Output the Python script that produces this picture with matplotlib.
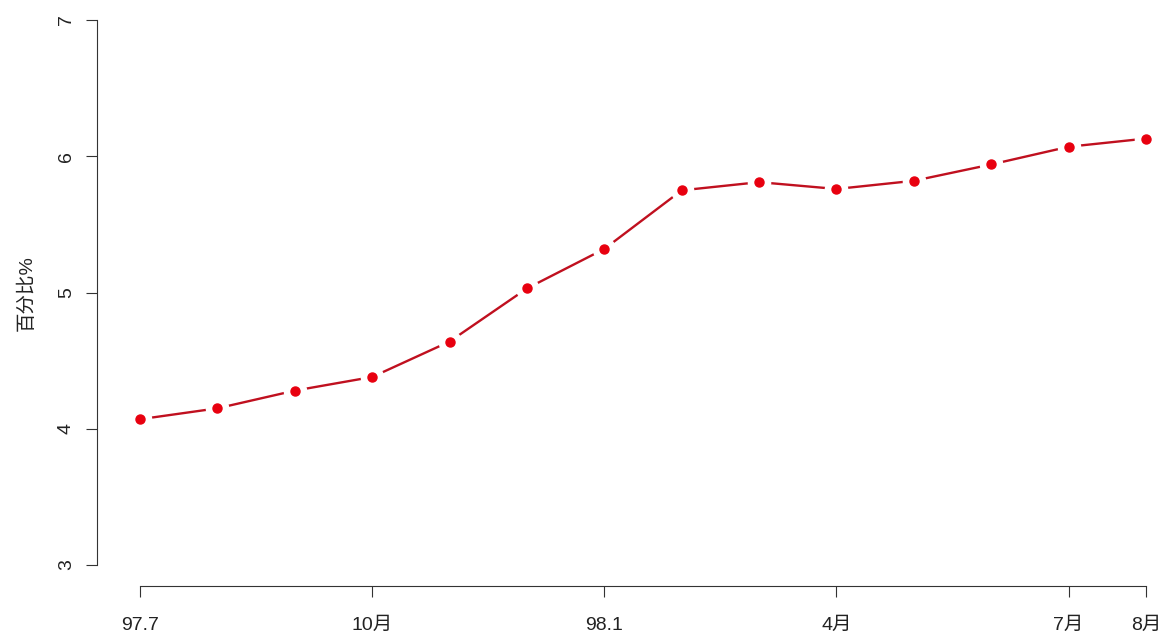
import matplotlib.pyplot as plt

plt.rcParams['font.family'] = ['Liberation Sans', 'Noto Sans CJK SC', 'DejaVu Sans']

# Monthly share, Jul 1997 - Aug 1998
months = list(range(1, 15))
values = [4.07, 4.15, 4.28, 4.38, 4.64, 5.03, 5.32, 5.75, 5.81, 5.76, 5.82, 5.94, 6.07, 6.13]
tick_pos = [1, 4, 7, 10, 13, 14]
tick_labels = ['97.7', '10月', '98.1', '4月', '7月', '8月']
y_ticks = [3, 4, 5, 6, 7]

fig = plt.figure(figsize=(11.66, 6.4), dpi=100)
ax = fig.add_axes([0.0832, 0.0844, 0.9168, 0.9156])

# line with gaps around each point
ax.plot(months, values, color='#c0101f', lw=1.7, zorder=1)
ax.plot(months, values, ls='none', marker='o', ms=16, mfc='white', mec='white', zorder=2)
ax.plot(months, values, ls='none', marker='o', ms=6.5, mfc='#e8000f', mec='#e8000f', zorder=3)

ax.set_xlim(0.444, 14.258)
ax.set_ylim(2.846, 7.147)

for side in ['top', 'right']:
    ax.spines[side].set_visible(False)
ax.spines['left'].set_bounds(3, 7)
ax.spines['bottom'].set_bounds(1, 14)
ax.spines['left'].set_color('#333333')
ax.spines['bottom'].set_color('#333333')

ax.set_xticks(tick_pos)
ax.set_xticklabels(tick_labels, fontsize=14, color='#222222')
ax.set_yticks(y_ticks)
ax.set_yticklabels([str(v) for v in y_ticks], fontsize=14, color='#222222',
                   rotation=90, va='center')
ax.tick_params(axis='x', length=8, pad=14, color='#333333')
ax.tick_params(axis='y', length=8, pad=8, color='#333333')

ax.set_ylabel('百分比%', fontsize=14, color='#222222', labelpad=16)

fig.savefig('out.png', dpi=100)
